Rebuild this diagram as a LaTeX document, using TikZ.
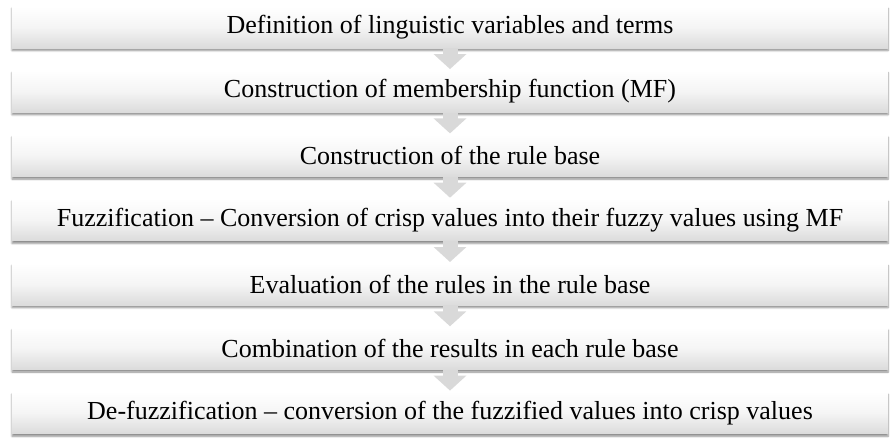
\documentclass[tikz,border=0pt]{standalone}
\usepackage{fontspec}
\setmainfont{Liberation Serif}
\usetikzlibrary{arrows.meta, shadows.blur}

\tikzset{
  stage/.style={minimum width=876pt, minimum height=42pt, inner sep=0pt,
    top color=white, bottom color=gray!28, middle color=gray!8,
    blur shadow={shadow xshift=0pt, shadow yshift=-2.5pt, shadow blur steps=6, shadow opacity=45},
    font=\fontsize{26pt}{28pt}\selectfont},
  flow/.style={line width=15pt, gray!30, -{Triangle[width=32pt, length=15pt]}, shorten >=1pt}
}

\begin{document}
\begin{tikzpicture}[>=Triangle]
  \useasboundingbox (0,0) rectangle (894pt,-442pt);
  % Stages of the fuzzy procedure
  \node[stage] (def)  at (450pt, -27.0pt){Definition of linguistic variables and terms};
  \node[stage] (mf)   at (450pt, -91.3pt){Construction of membership function (MF)};
  \node[stage] (rule) at (450pt,-155.6pt){Construction of the rule base};
  \node[stage] (fuzz) at (450pt,-219.9pt){Fuzzification -- Conversion of crisp values into their fuzzy values using MF};
  \node[stage] (eval) at (450pt,-284.2pt){Evaluation of the rules in the rule base};
  \node[stage] (comb) at (450pt,-348.5pt){Combination of the results in each rule base};
  \node[stage] (defz) at (450pt,-412.8pt){De-fuzzification -- conversion of the fuzzified values into crisp values};
  % Arrows between stages
  \draw[flow] (def.south)  -- (mf.north);
  \draw[flow] (mf.south)   -- (rule.north);
  \draw[flow] (rule.south) -- (fuzz.north);
  \draw[flow] (fuzz.south) -- (eval.north);
  \draw[flow] (eval.south) -- (comb.north);
  \draw[flow] (comb.south) -- (defz.north);
\end{tikzpicture}
\end{document}
